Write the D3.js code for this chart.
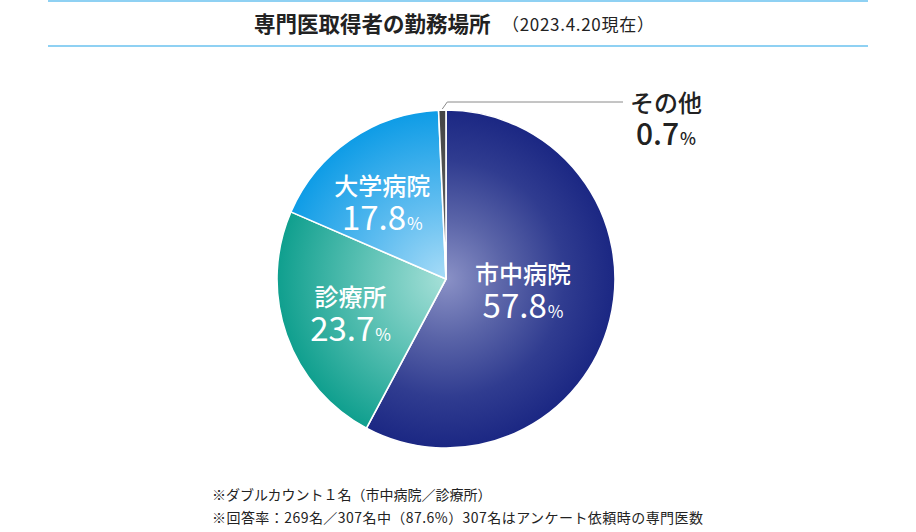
<!DOCTYPE html>
<html><head><meta charset="utf-8">
<script src="https://cdn.jsdelivr.net/npm/d3@7"></script>
<style>
html,body{margin:0;padding:0;background:#fff;}
svg{display:block;font-family:"Noto Sans CJK JP","Noto Sans",sans-serif;}
</style></head>
<body>
<svg id="chart" width="916" height="532"></svg>
<script>
const categories = ["市中病院", "診療所", "大学病院", "その他"];
const values = [57.8, 23.7, 17.8, 0.7];
const valueLabels = ["57.8", "23.7", "17.8", "0.7"];
const titleText = "専門医取得者の勤務場所";
const subtitleText = "（2023.4.20現在）";
const notes = ["※ダブルカウント１名（市中病院／診療所）", "※回答率：269名／307名中（87.6%）307名はアンケート依頼時の専門医数"];

const W = 916, H = 532;
const svg = d3.select("#chart");
const cx = 446, cy = 279, R = 169;

// header lines
svg.append("line").attr("x1",48).attr("x2",868).attr("y1",1).attr("y2",1).attr("stroke","#8fd1f3").attr("stroke-width",2);
svg.append("line").attr("x1",48).attr("x2",868).attr("y1",46).attr("y2",46).attr("stroke","#8fd1f3").attr("stroke-width",2);
svg.append("text").attr("x",254).attr("y",32).attr("font-size",21.5).attr("font-weight",700).attr("fill","#222").text(titleText);
svg.append("text").attr("x",502).attr("y",31).attr("font-size",17).attr("letter-spacing",0.7).attr("font-weight",400).attr("fill","#222").text(subtitleText);

// gradients (centred on the pie centre, in the pie group's coordinates)
const defs = svg.append("defs");
const grads = [
  ["g0", [["0%","#8a91c6"],["35%","#5a64a8"],["70%","#303c90"],["100%","#1b2783"]]],
  ["g1", [["0%","#a6e0d8"],["45%","#62c4b7"],["100%","#0f9f8e"]]],
  ["g2", [["0%","#a8dcf7"],["45%","#60bdf0"],["100%","#0e9ce6"]]],
  ["g3", [["0%","#6a6a6a"],["100%","#444444"]]]
];
grads.forEach(([id, stops]) => {
  const gr = defs.append("radialGradient").attr("id", id).attr("gradientUnits","userSpaceOnUse")
    .attr("cx", 0).attr("cy", 0).attr("r", R);
  stops.forEach(([o,c]) => gr.append("stop").attr("offset",o).attr("stop-color",c));
});

const pie = d3.pie().sort(null).value(d => d)(values);
const arc = d3.arc().innerRadius(0).outerRadius(R);
const g = svg.append("g").attr("transform",`translate(${cx},${cy})`);
g.selectAll("path").data(pie).join("path")
  .attr("d", arc)
  .attr("fill", (d,i) => `url(#g${i})`)
  .attr("stroke", "#fff").attr("stroke-width", 1.6).attr("stroke-linejoin","round");

// inside labels
const labelArc = d3.arc().innerRadius(100).outerRadius(100);
const nudges = [[-20,-13],[-1,1],[-7,5]];
for (let i = 0; i < 3; i++) {
  const [x0,y0] = labelArc.centroid(pie[i]);
  const x = x0 + nudges[i][0], y = y0 + nudges[i][1];
  g.append("text").attr("x", x).attr("y", y - 7).attr("text-anchor","middle")
    .attr("font-size", 24).attr("font-weight", 500).attr("fill","#fff").text(categories[i]);
  const t = g.append("text").attr("x", x).attr("y", y + 28).attr("text-anchor","middle")
    .attr("fill","#fff").attr("font-weight", 400);
  t.append("tspan").attr("font-size", 33).text(valueLabels[i]);
  t.append("tspan").attr("font-size", 17).attr("dx", 1).text("%");
}

// その他 leader + label
const last = pie[3];
const mid = (last.startAngle + last.endAngle) / 2;
const p0 = [Math.sin(mid) * (R + 1), -Math.cos(mid) * (R + 1)];
const elbowY = 102 - cy;
svg.append("polyline")
  .attr("points", [[cx + p0[0], cy + p0[1]], [cx + p0[0] + 5, cy + elbowY], [623, cy + elbowY]].map(p => p.join(",")).join(" "))
  .attr("fill","none").attr("stroke","#8a8a8a").attr("stroke-width",1);
svg.append("text").attr("x", 666).attr("y", 112).attr("text-anchor","middle")
  .attr("font-size", 24).attr("font-weight", 500).attr("fill","#222").text(categories[3]);
const t3 = svg.append("text").attr("x", 666).attr("y", 145).attr("text-anchor","middle").attr("fill","#222").attr("font-weight",500);
t3.append("tspan").attr("font-size", 30).text(valueLabels[3]);
t3.append("tspan").attr("font-size", 17).attr("dx", 1).text("%");

// notes
notes.forEach((n, i) => {
  svg.append("text").attr("x", 212).attr("y", 500 + i * 23).attr("font-size", 14)
    .attr("letter-spacing", i === 1 ? 0.45 : 0).attr("fill","#222").text(n);
});
</script>
</body></html>
